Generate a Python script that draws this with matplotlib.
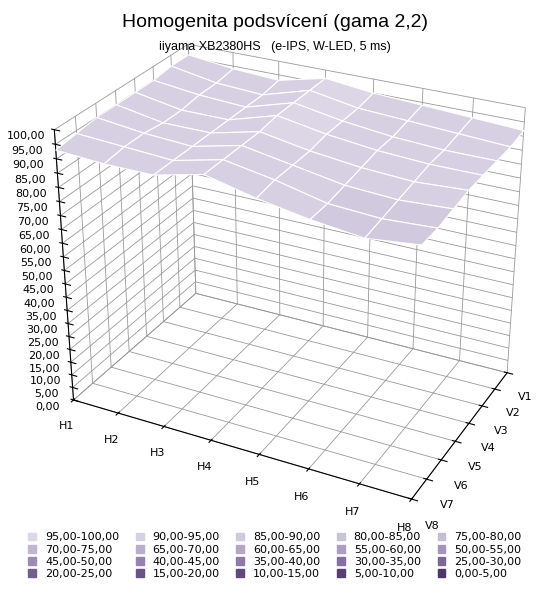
import matplotlib
matplotlib.use("Agg")
import matplotlib.pyplot as plt
import numpy as np
from matplotlib.colors import ListedColormap, BoundaryNorm, LinearSegmentedColormap
from matplotlib.patches import Patch

h_labels = ["H1", "H2", "H3", "H4", "H5", "H6", "H7", "H8"]
v_labels = ["V1", "V2", "V3", "V4", "V5", "V6", "V7", "V8"]
# rows = V1..V8, columns = H1..H8 (brightness in %)
values = [
    [96, 94, 93, 97, 95, 94, 93, 92],
    [96, 93, 92, 97, 94, 93, 92, 91],
    [95, 93, 92, 97, 94, 92, 91, 91],
    [95, 92, 92, 97, 94, 92, 91, 91],
    [95, 92, 92, 96, 93, 91, 90, 91],
    [95, 93, 92, 96, 93, 90, 89, 90],
    [94, 93, 92, 96, 93, 89, 88, 89],
    [93, 92, 92, 96, 92, 89, 87, 89],
]
bands = [f"{lo:.2f}-{lo + 5:.2f}".replace(".", ",") for lo in range(95, -5, -5)]

base = LinearSegmentedColormap.from_list("p", ["#dcd6e6", "#b8adc9", "#8a72a6", "#4e3766"])
band_colors = [base(i / 19) for i in range(20)]  # index 0 = 95-100
cmap = ListedColormap(band_colors[::-1])
norm = BoundaryNorm(np.arange(0, 105, 5), cmap.N)

Z = np.array(values, dtype=float)
X, Y = np.meshgrid(np.arange(len(h_labels)), np.arange(len(v_labels)))

fig = plt.figure(figsize=(5.5, 5.89), dpi=100)
fig.text(0.5, 0.955, "Homogenita podsvícení (gama 2,2)", ha="center", fontsize=14, family="Liberation Sans")
fig.text(0.5, 0.915, "iiyama XB2380HS   (e-IPS, W-LED, 5 ms)", ha="center", fontsize=9, family="Liberation Sans")

ax = fig.add_axes([-0.06, 0.1, 1.16, 0.9], projection="3d")
ax.plot_surface(X, Y, Z, cmap=cmap, norm=norm, edgecolor="white", linewidth=0.8,
                rstride=1, cstride=1, shade=True, antialiased=True)
ax.set_proj_type("persp", focal_length=0.6)
ax.view_init(elev=28, azim=-63)
ax.set_box_aspect((1.5, 1.0, 1.2))
ax.set_zlim(0, 100)
ax.set_xlim(0, 7)
ax.set_ylim(7, 0)
ax.set_xticks(range(8))
ax.set_xticklabels(h_labels, fontsize=8)
ax.set_yticks(range(8))
ax.set_yticklabels(v_labels, fontsize=8)
ax.set_zticks(np.arange(0, 105, 5))
ax.set_zticklabels([f"{t:.2f}".replace(".", ",") for t in np.arange(0, 105, 5)], fontsize=8)
ax.zaxis._axinfo["juggled"] = (1, 2, 0)
for a in (ax.xaxis, ax.yaxis, ax.zaxis):
    a.set_pane_color((1, 1, 1, 0))
    a._axinfo["grid"]["color"] = "#999999"
    a._axinfo["grid"]["linewidth"] = 0.6

# legend reads row by row in the reference; matplotlib fills by columns
order = [r * 5 + c for c in range(5) for r in range(4)]
handles = [Patch(color=band_colors[i]) for i in order]
labels = [bands[i] for i in order]
fig.legend(handles, labels, loc="lower center", ncol=5, fontsize=8, frameon=False,
           handlelength=0.7, handleheight=0.7, columnspacing=1.5, labelspacing=0.2,
           bbox_to_anchor=(0.5, 0.0))
fig.savefig("out.png", dpi=100)
